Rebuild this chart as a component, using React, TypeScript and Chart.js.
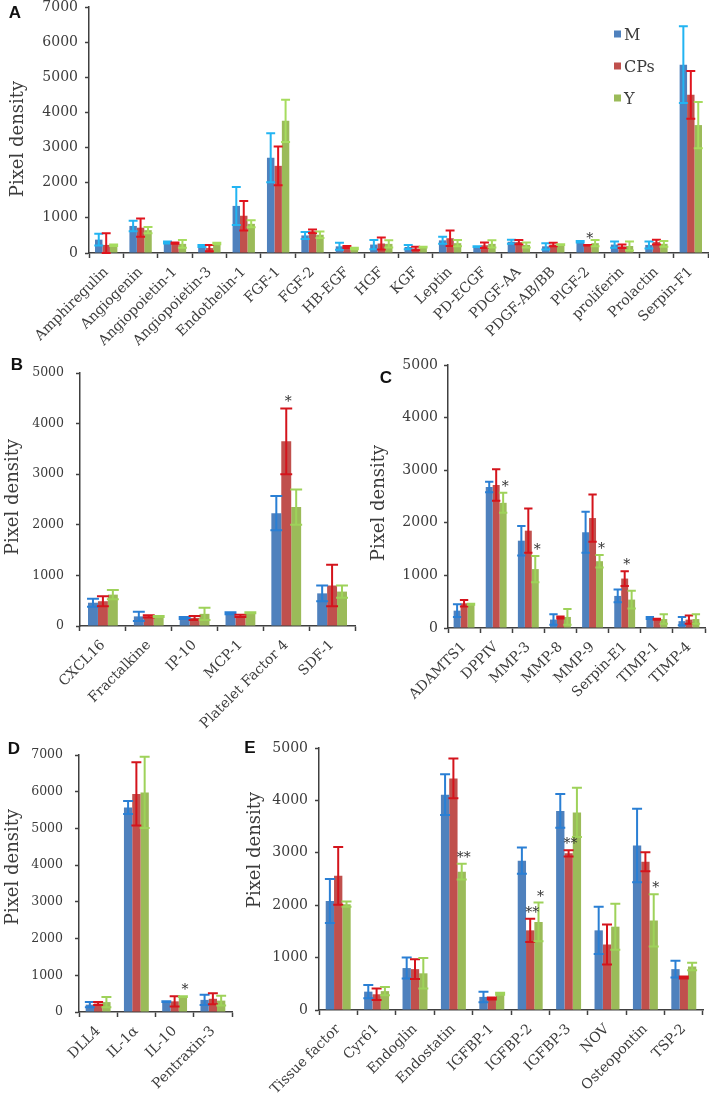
import React, { useEffect, useRef } from "react";
import { Chart, registerables } from "chart.js";

Chart.register(...registerables);

// ---------- data ----------
const SERIES = ["M", "CPs", "Y"];

const catsA = ["Amphiregulin", "Angiogenin", "Angiopoietin-1", "Angiopoietin-3", "Endothelin-1", "FGF-1", "FGF-2", "HB-EGF", "HGF", "KGF", "Leptin", "PD-ECGF", "PDGF-AA", "PDGF-AB/BB", "PlGF-2", "proliferin", "Prolactin", "Serpin-F1"];
const mA = [380, 770, 300, 200, 1340, 2710, 500, 190, 240, 170, 360, 180, 320, 190, 320, 240, 230, 5360];
const mAerr = [170, 150, 30, 30, 540, 700, 100, 100, 130, 60, 100, 10, 60, 90, 20, 90, 100, 1090];
const cA = [230, 720, 280, 140, 1060, 2480, 620, 170, 270, 130, 420, 220, 310, 240, 220, 190, 310, 4500];
const cAerr = [330, 260, 20, 90, 420, 550, 50, 30, 170, 50, 220, 80, 60, 50, 10, 50, 70, 680];
const yA = [220, 650, 260, 270, 830, 3760, 520, 130, 260, 170, 280, 260, 230, 240, 280, 200, 260, 3640];
const yAerr = [20, 90, 110, 20, 100, 600, 90, 20, 100, 10, 90, 100, 70, 10, 90, 130, 80, 660];

const catsB = ["CXCL16", "Fractalkine", "IP-10", "MCP-1", "Platelet Factor 4", "SDF-1"];
const mB = [460, 190, 160, 250, 2230, 645];
const mBerr = [80, 90, 20, 20, 340, 155];
const cB = [490, 190, 160, 200, 3650, 800];
const cBerr = [100, 20, 40, 20, 650, 410];
const yB = [620, 190, 240, 260, 2350, 680];
const yBerr = [90, 10, 120, 10, 350, 120];

const catsC = ["ADAMTS1", "DPPIV", "MMP-3", "MMP-8", "MMP-9", "Serpin-E1", "TIMP-1", "TIMP-4"];
const mC = [330, 2680, 1660, 160, 1820, 610, 190, 130];
const mCerr = [120, 100, 280, 100, 390, 120, 20, 80];
const cC = [470, 2720, 1850, 200, 2090, 940, 165, 160];
const cCerr = [60, 300, 420, 20, 450, 140, 10, 80];
const yC = [450, 2380, 1120, 210, 1270, 540, 170, 170];
const yCerr = [10, 190, 250, 150, 120, 170, 90, 90];

const catsD = ["DLL4", "IL-1α", "IL-10", "Pentraxin-3"];
const mD = [200, 5570, 280, 330];
const mDerr = [70, 180, 10, 140];
const cD = [230, 5940, 290, 360];
const cDerr = [40, 860, 140, 150];
const yD = [270, 5980, 420, 310];
const yDerr = [140, 970, 10, 130];

const catsE = ["Tissue factor", "Cyr61", "Endoglin", "Endostatin", "IGFBP-1", "IGFBP-2", "IGFBP-3", "NOV", "Osteopontin", "TSP-2"];
const mE = [2080, 350, 800, 4110, 250, 2850, 3800, 1520, 3140, 780];
const mEerr = [420, 125, 200, 390, 100, 250, 320, 450, 700, 160];
const cE = [2560, 300, 780, 4420, 220, 1520, 2990, 1250, 2830, 620];
const cEerr = [550, 110, 190, 380, 20, 220, 60, 380, 180, 20];
const yE = [2020, 360, 700, 2640, 310, 1680, 3770, 1590, 1710, 830];
const yEerr = [50, 80, 290, 150, 20, 370, 470, 440, 500, 70];

const starsA = [{ cat: 14, series: 1, text: "*" }];
const starsB = [{ cat: 4, series: 1, text: "*" }];
const starsC = [
  { cat: 1, series: 2, text: "*" },
  { cat: 2, series: 2, text: "*" },
  { cat: 4, series: 2, text: "*" },
  { cat: 5, series: 1, text: "*" },
];
const starsD = [{ cat: 2, series: 2, text: "*" }];
const starsE = [
  { cat: 3, series: 2, text: "**" },
  { cat: 5, series: 1, text: "**" },
  { cat: 5, series: 2, text: "*" },
  { cat: 6, series: 1, text: "**" },
  { cat: 8, series: 2, text: "*" },
];

// ---------- styles ----------
const BAR_COLORS = ["#4F81BD", "#C0504D", "#9BBB59"];
const ERR_A = ["#22B4F2", "#E0141E", "#A6DC5E"];
const ERR_OTHER = ["#2A7FD4", "#D4141C", "#9ED25A"];
const TEXT = "#3c3c3c";
const AXIS = "#404040";
const SERIF = '"DejaVu Serif", serif';

type Star = { cat: number; series: number; text: string };
type Panel = {
  letter: string;
  left: number; top: number; width: number; height: number;
  area: { left: number; top: number; right: number; bottom: number };
  cats: string[];
  values: number[][];
  errors: number[][];
  yMax: number;
  tickFont: number;
  tickPad: number;
  title: { x: number; y: number };
  letterPos: { x: number; y: number };
  errColors: string[];
  stars: Star[];
  legend?: { x: number; y: number; gap: number };
};

const PANELS: Panel[] = [
  {
    letter: "A", left: 0, top: 0, width: 709, height: 350,
    area: { left: 89, top: 7, right: 708, bottom: 253 },
    cats: catsA, values: [mA, cA, yA], errors: [mAerr, cAerr, yAerr], yMax: 7000,
    tickFont: 14, tickPad: 7, title: { x: 18, y: 139 }, letterPos: { x: 15, y: 13 },
    errColors: ERR_A, stars: starsA, legend: { x: 614, y: 34, gap: 32 },
  },
  {
    letter: "B", left: 0, top: 350, width: 360, height: 390,
    area: { left: 80, top: 23, right: 355, bottom: 276 },
    cats: catsB, values: [mB, cB, yB], errors: [mBerr, cBerr, yBerr], yMax: 5000,
    tickFont: 12.5, tickPad: 12, title: { x: 13, y: 147 }, letterPos: { x: 17, y: 15 },
    errColors: ERR_OTHER, stars: starsB,
  },
  {
    letter: "C", left: 360, top: 350, width: 349, height: 390,
    area: { left: 88, top: 15, right: 345, bottom: 278 },
    cats: catsC, values: [mC, cC, yC], errors: [mCerr, cCerr, yCerr], yMax: 5000,
    tickFont: 14, tickPad: 6, title: { x: 19, y: 153 }, letterPos: { x: 26, y: 28 },
    errColors: ERR_OTHER, stars: starsC,
  },
  {
    letter: "D", left: 0, top: 740, width: 240, height: 356,
    area: { left: 79, top: 15, right: 232, bottom: 272 },
    cats: catsD, values: [mD, cD, yD], errors: [mDerr, cDerr, yDerr], yMax: 7000,
    tickFont: 12.5, tickPad: 12, title: { x: 13, y: 127 }, letterPos: { x: 14, y: 9 },
    errColors: ERR_OTHER, stars: starsD,
  },
  {
    letter: "E", left: 240, top: 740, width: 469, height: 356,
    area: { left: 79, top: 8, right: 463, bottom: 270 },
    cats: catsE, values: [mE, cE, yE], errors: [mEerr, cEerr, yEerr], yMax: 5000,
    tickFont: 14, tickPad: 7, title: { x: 15, y: 110 }, letterPos: { x: 10, y: 8 },
    errColors: ERR_OTHER, stars: starsE,
  },
];

// ---------- plugins ----------
const errorBarPlugin = {
  id: "errbars",
  afterDatasetsDraw(chart: any, _args: any, opts: any) {
    const { ctx } = chart;
    const ys = chart.scales.y;
    chart.data.datasets.forEach((ds: any, di: number) => {
      const meta = chart.getDatasetMeta(di);
      meta.data.forEach((bar: any, i: number) => {
        const v = ds.data[i];
        const e = ds.errors[i];
        const x = bar.x;
        const hw = bar.width * 0.6;
        const yTop = ys.getPixelForValue(v + e);
        const yBot = ys.getPixelForValue(Math.max(v - e, 0));
        ctx.save();
        ctx.strokeStyle = opts.colors[di];
        ctx.lineWidth = 2;
        ctx.beginPath();
        ctx.moveTo(x, yTop);
        ctx.lineTo(x, yBot);
        ctx.moveTo(x - hw, yTop);
        ctx.lineTo(x + hw, yTop);
        ctx.moveTo(x - hw, yBot);
        ctx.lineTo(x + hw, yBot);
        ctx.stroke();
        ctx.restore();
      });
    });
  },
};

const decorPlugin = {
  id: "decor",
  afterDraw(chart: any, _args: any, o: any) {
    const { ctx } = chart;
    const ys = chart.scales.y;
    ctx.save();
    // panel letter
    ctx.fillStyle = "#111";
    ctx.font = 'bold 17px "Liberation Sans", Arial, sans-serif';
    ctx.textAlign = "center";
    ctx.textBaseline = "middle";
    ctx.fillText(o.letter, o.letterPos.x, o.letterPos.y);
    // y title
    ctx.save();
    ctx.translate(o.title.x, o.title.y);
    ctx.rotate(-Math.PI / 2);
    ctx.font = `18px ${SERIF}`;
    ctx.fillStyle = TEXT;
    ctx.fillText("Pixel density", 0, 0);
    ctx.restore();
    // significance stars
    ctx.font = `14px ${SERIF}`;
    ctx.fillStyle = "#333";
    ctx.textBaseline = "alphabetic";
    (o.stars as Star[]).forEach((s) => {
      const ds = chart.data.datasets[s.series];
      const bar = chart.getDatasetMeta(s.series).data[s.cat];
      const top = ys.getPixelForValue(ds.data[s.cat] + ds.errors[s.cat]);
      ctx.fillText(s.text, bar.x + 2, top - 2);
    });
    // legend
    if (o.legend) {
      ctx.textAlign = "left";
      ctx.textBaseline = "middle";
      ctx.font = `16px ${SERIF}`;
      chart.data.datasets.forEach((ds: any, i: number) => {
        const cy = o.legend.y + i * o.legend.gap;
        ctx.fillStyle = ds.backgroundColor;
        ctx.fillRect(o.legend.x, cy - 3.5, 7, 7);
        ctx.fillStyle = TEXT;
        ctx.fillText(ds.label, o.legend.x + 10, cy + 2);
      });
    }
    ctx.restore();
  },
};

function PanelChart({ p }: { p: Panel }) {
  const ref = useRef<HTMLCanvasElement | null>(null);
  useEffect(() => {
    if (!ref.current) return;
    const chart = new Chart(ref.current, {
      type: "bar",
      data: {
        labels: p.cats,
        datasets: SERIES.map((s, i) => ({
          label: s,
          data: p.values[i],
          errors: p.errors[i],
          backgroundColor: BAR_COLORS[i],
          borderWidth: 0,
          barPercentage: 1,
          categoryPercentage: 0.65,
        })) as any,
      },
      options: {
        responsive: false,
        animation: false,
        devicePixelRatio: 1,
        layout: {
          padding: { top: p.area.top, left: 0, right: p.width - p.area.right, bottom: 0 },
        },
        plugins: {
          legend: { display: false },
          tooltip: { enabled: false },
          errbars: { colors: p.errColors },
          decor: {
            letter: p.letter,
            letterPos: p.letterPos,
            title: p.title,
            stars: p.stars,
            legend: p.legend,
          },
        } as any,
        scales: {
          x: {
            type: "category",
            offset: true,
            grid: {
              display: true,
              offset: true,
              drawOnChartArea: false,
              drawTicks: true,
              tickLength: 5,
              tickColor: AXIS,
              tickWidth: 1.5,
              color: AXIS,
            },
            border: { display: true, color: AXIS, width: 1.5 },
            ticks: {
              autoSkip: false,
              minRotation: 45,
              maxRotation: 45,
              padding: 6,
              color: TEXT,
              font: { family: SERIF, size: 14 },
            },
            afterFit: (s: any) => {
              s.height = p.height - p.area.bottom;
              s.paddingLeft = 0;
              s.paddingRight = 0;
            },
          },
          y: {
            min: 0,
            max: p.yMax,
            grid: {
              display: true,
              drawOnChartArea: false,
              drawTicks: true,
              tickLength: 4,
              tickColor: AXIS,
              tickWidth: 1.5,
              color: AXIS,
            },
            border: { display: true, color: AXIS, width: 1.5 },
            ticks: {
              stepSize: 1000,
              padding: p.tickPad,
              color: TEXT,
              font: { family: SERIF, size: p.tickFont },
              callback: (v: any) => String(v),
            },
            afterFit: (s: any) => {
              s.width = p.area.left;
              s.paddingTop = 0;
              s.paddingBottom = 0;
            },
          },
        } as any,
      },
      plugins: [errorBarPlugin, decorPlugin] as any,
    });
    return () => chart.destroy();
  }, [p]);
  return (
    <canvas
      ref={ref}
      width={p.width}
      height={p.height}
      style={{ position: "absolute", left: p.left, top: p.top, width: p.width, height: p.height }}
    />
  );
}

export default function App() {
  return (
    <div style={{ position: "absolute", left: 0, top: 0, width: 709, height: 1096, background: "#fff" }}>
      {PANELS.map((p) => (
        <PanelChart key={p.letter} p={p} />
      ))}
    </div>
  );
}
